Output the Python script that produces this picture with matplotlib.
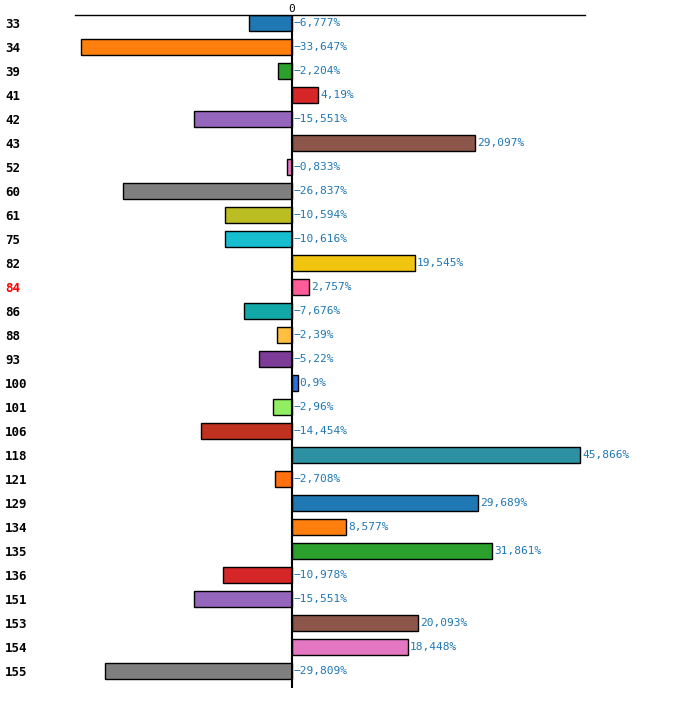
import matplotlib.pyplot as plt

labels = ["33", "34", "39", "41", "42", "43", "52", "60", "61", "75", "82", "84", "86", "88",
          "93", "100", "101", "106", "118", "121", "129", "134", "135", "136", "151", "153", "154", "155"]
valores = [-6.777, -33.647, -2.204, 4.19, -15.551, 29.097, -0.833, -26.837, -10.594, -10.616,
           19.545, 2.757, -7.676, -2.39, -5.22, 0.9, -2.96, -14.454, 45.866, -2.708,
           29.689, 8.577, 31.861, -10.978, -15.551, 20.093, 18.448, -29.809]
cores = ["#1f77b4", "#ff7f0e", "#2ca02c", "#d62728", "#9467bd", "#8c564b", "#e377c2", "#7f7f7f",
         "#bcbd22", "#17becf", "#f1c40f", "#ff5c99", "#13a8a8", "#ffbf40", "#7d3c98", "#2a6fdb",
         "#90ee60", "#c0311f", "#2e91a3", "#ff7010", "#1f77b4", "#ff7f0e", "#2ca02c", "#d62728",
         "#9467bd", "#8c564b", "#e377c2", "#7f7f7f"]
destaque = "84"

fig = plt.figure(figsize=(7, 7.17), dpi=100)
ax = fig.add_axes([75 / 700, 1 - 688 / 717, 510 / 700, 673 / 717])
y = list(range(len(labels)))
ax.barh(y, valores, height=0.67, color=cores, edgecolor="black", linewidth=1)
ax.set_xlim(-34.55, 46.65)
ax.set_ylim(27.7, -0.33)

for s in ["right", "bottom", "left"]:
    ax.spines[s].set_visible(False)
ax.spines["top"].set_linewidth(1)
ax.axvline(0, color="black", linewidth=1.5)

ax.xaxis.tick_top()
ax.set_xticks([0])
ax.set_xticklabels(["0"], family="DejaVu Sans Mono", fontsize=8)
ax.tick_params(axis="x", length=0, pad=1)

ax.set_yticks(y)
ax.set_yticklabels(labels, fontsize=9, fontweight="bold", family="DejaVu Sans Mono")
ax.tick_params(axis="y", length=0)
for t in ax.get_yticklabels():
    t.set_x(-65 / 510)
    t.set_horizontalalignment("left")
    if t.get_text() == destaque:
        t.set_color("red")

for i, v in enumerate(valores):
    x = max(v, 0)
    txt = f"{v:g}".replace(".", ",").replace("-", "−") + "%"
    ax.text(x + 0.3, i, txt, va="center", ha="left", fontsize=8,
            color="#1f77b4", family="DejaVu Sans Mono")

plt.savefig("out.png")
